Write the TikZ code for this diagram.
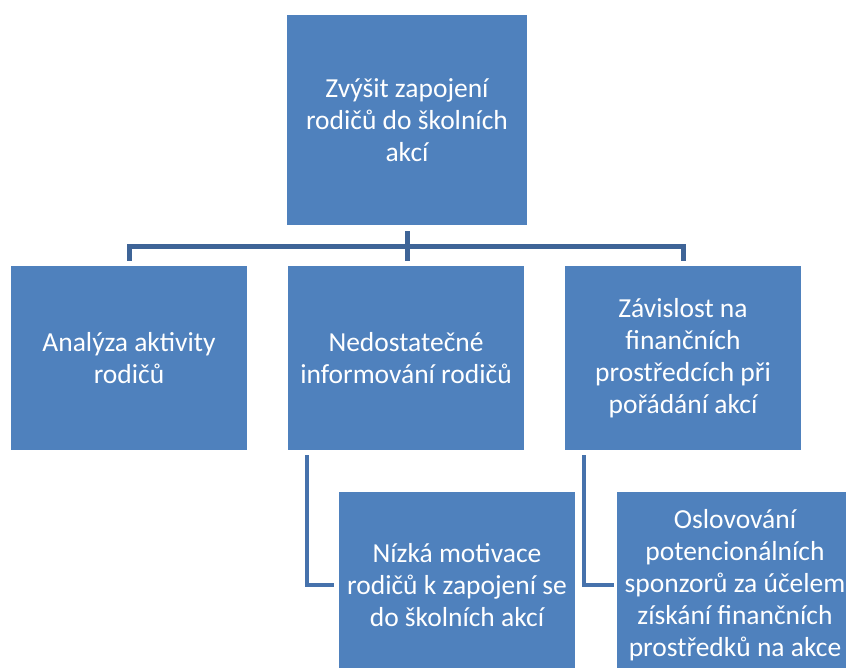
\documentclass[tikz,border=0pt]{standalone}
\usepackage{fontspec}
\setmainfont{Carlito}
\usepackage{tikz}
\usetikzlibrary{positioning}

\definecolor{boxblue}{HTML}{4F81BD}
\definecolor{busblue}{HTML}{3E6497}
\definecolor{elbowblue}{HTML}{4672AC}

\tikzset{
  goalbox/.style = {fill = boxblue, shape = rectangle, inner sep = 0pt, align = center, text = white, font = \fontsize{27.5}{32}\selectfont},
  busline/.style = {draw = busblue, line width = 5pt},
  elbowline/.style = {draw = elbowblue, line width = 4.5pt}
}

\begin{document}
\begin{tikzpicture}[x = 1pt, y = -1pt]
\useasboundingbox (0,0) rectangle (846,668);
\clip (0,0) rectangle (846,668);
\node[goalbox, minimum width = 240pt, minimum height = 210pt] (70) at (407,120) {Zvýšit zapojení\\rodičů do školních\\akcí};
\node[goalbox, minimum width = 236pt, minimum height = 184pt] (71) at (129,358) {Analýza aktivity\\rodičů};
\node[goalbox, minimum width = 236pt, minimum height = 184pt] (72) at (406,358) {Nedostatečné\\informování rodičů};
\node[goalbox, minimum width = 236pt, minimum height = 184pt] (73) at (683,358) {Závislost na\\finančních\\prostředcích při\\pořádání akcí};
\node[goalbox, minimum width = 236pt, minimum height = 186pt] (74) at (457,585) {Nízká motivace\\rodičů k zapojení se\\do školních akcí};
\node[goalbox, minimum width = 236pt, minimum height = 186pt] (75) at (735,585) {Oslovování\\potencionálních\\sponzorů za účelem\\získání finančních\\prostředků na akce};
% bus
\draw[busline] ([yshift=-6pt]70.south) -- ([yshift=5pt]70.south |- 72.north);
\draw[busline] ([yshift=5pt]71.north) -- ++(0,-14) -| ([yshift=5pt]73.north);
% elbows
\draw[elbowline] ([xshift=19pt,yshift=-5pt]72.south west) |- ([xshift=-5pt]74.west);
\draw[elbowline] ([xshift=19pt,yshift=-5pt]73.south west) |- ([xshift=-3pt]75.west);
\end{tikzpicture}
\end{document}
